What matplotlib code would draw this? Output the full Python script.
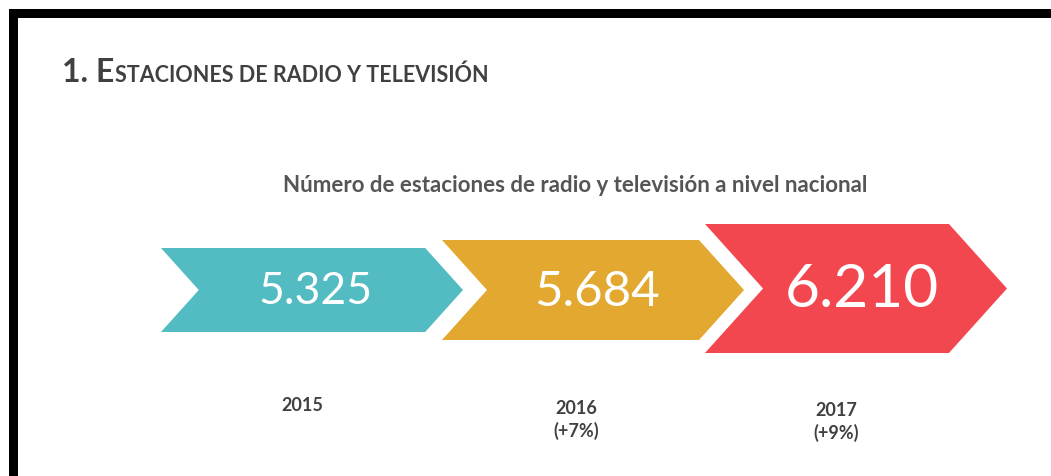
import matplotlib
matplotlib.use("Agg")
import matplotlib.pyplot as plt
from matplotlib.patches import Polygon, Rectangle

# data
years = ["2015", "2016", "2017"]
stations = [5325, 5684, 6210]
changes = ["", "(+7%)", "(+9%)"]
colors = ["#53BCC3", "#E2A82F", "#F3474F"]

# layout of the chevrons (pixels)
left = [161, 442, 705]
width = 302
ymid = [291, 291, 289.5]
heights = [84, 100, 129]
num_x = [316, 597, 862]
num_size = [32, 35.5, 43.5]
lab_x = [302, 576, 836]
lab_y = [397, 400, 402]

plt.rcParams['font.family'] = ['Lato', 'DejaVu Sans']
dark = "#404040"

fig = plt.figure(figsize=(10.51, 4.77), dpi=100)
ax = fig.add_axes([0, 0, 1, 1])
ax.set_xlim(0, 1051)
ax.set_ylim(477, 0)
ax.axis('off')

# frame
ax.add_patch(Rectangle((9, 10), 1051, 9, color="black", lw=0))
ax.add_patch(Rectangle((9, 10), 9, 480, color="black", lw=0))


def chevron(x0, yc, w, h, color):
    d = h * 0.45
    x1 = x0 + w
    pts = [(x0, yc - h / 2), (x1 - d, yc - h / 2), (x1, yc),
           (x1 - d, yc + h / 2), (x0, yc + h / 2), (x0 + d, yc)]
    ax.add_patch(Polygon(pts, closed=True, color=color, lw=0))


for i in range(len(stations)):
    chevron(left[i], ymid[i], width, heights[i], colors[i])
    txt = f"{stations[i]:,}".replace(",", ".")
    ax.text(num_x[i], ymid[i] + 1, txt, color="white", fontsize=num_size[i],
            ha='center', va='center')
    lab = years[i] if not changes[i] else years[i] + "\n" + changes[i]
    ax.text(lab_x[i], lab_y[i], lab, color=dark, fontsize=13, fontweight='bold',
            ha='center', va='top', linespacing=1.3)

# title in small caps
t1 = ax.text(62, 82, "1. E", fontsize=23, fontweight='bold', color=dark, va='baseline')
r = fig.canvas.get_renderer()
bb = t1.get_window_extent(r)
x_end = ax.transData.inverted().transform((bb.x1, 0))[0]
ax.text(x_end + 1, 82, "STACIONES DE RADIO Y TELEVISIÓN", fontsize=15.5,
        fontweight='bold', color=dark, va='baseline')

ax.text(575, 186, "Número de estaciones de radio y televisión a nivel nacional",
        fontsize=16, fontweight='bold', color="#555555", ha='center', va='center')

fig.savefig("out.png", dpi=100)
